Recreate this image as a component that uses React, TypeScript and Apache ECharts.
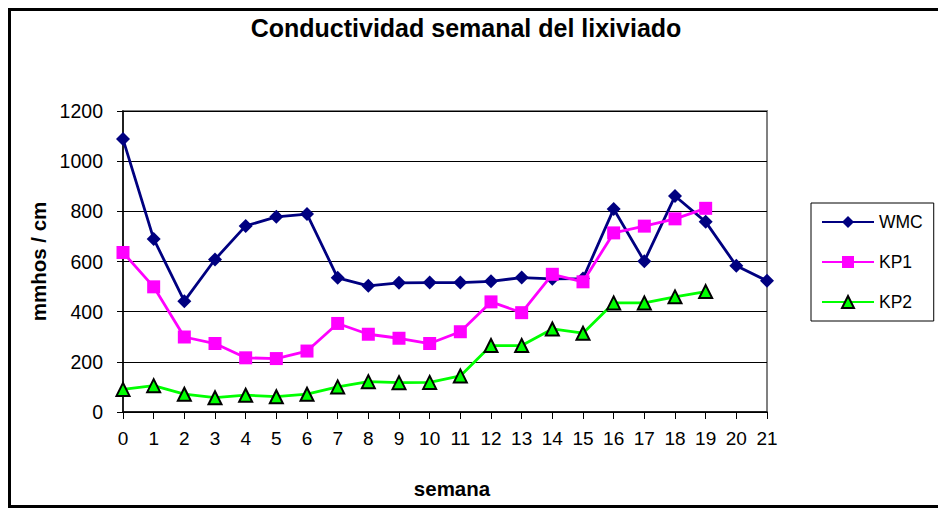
import React, { useEffect, useRef } from "react";
import * as echarts from "echarts";

const weeks = ["0", "1", "2", "3", "4", "5", "6", "7", "8", "9", "10", "11", "12", "13", "14", "15", "16", "17", "18", "19", "20", "21"];
const wmc = [1088, 690, 442, 608, 742, 778, 789, 535, 503, 515, 516, 516, 521, 536, 531, 532, 809, 601, 861, 758, 583, 523];
const kp1 = [636, 499, 299, 273, 216, 213, 243, 353, 310, 294, 273, 320, 439, 396, 549, 519, 714, 741, 770, 812];
const kp2 = [90, 105, 71, 57, 67, 61, 71, 100, 121, 117, 118, 144, 265, 265, 331, 314, 435, 435, 459, 480];

const FONT = "'Liberation Sans', Arial, sans-serif";

export default function App() {
  const ref = useRef<HTMLDivElement>(null);
  useEffect(() => {
    if (!ref.current) return;
    const chart = echarts.init(ref.current, undefined, { renderer: "svg" });
    chart.setOption({
      animation: false,
      backgroundColor: "#ffffff",
      textStyle: { fontFamily: FONT },
      title: {
        text: "Conductividad semanal del lixiviado",
        left: 466,
        textAlign: "center",
        top: 15,
        padding: 0,
        textStyle: { fontFamily: FONT, fontWeight: "bold", fontSize: 25, color: "#000" },
      },
      graphic: [
        {
          type: "rect",
          shape: { x: 9.5, y: 9.5, width: 1000, height: 497 },
          style: { fill: "none", stroke: "#000", lineWidth: 3 },
          silent: true,
        },
      ],
      legend: {
        orient: "vertical",
        left: 811,
        top: 203,
        padding: [10, 11, 10, 10],
        borderColor: "#000",
        borderWidth: 1,
        itemWidth: 52,
        itemHeight: 15,
        itemGap: 22,
        textStyle: { fontFamily: FONT, fontSize: 17.5, color: "#000", lineHeight: 18 },
        data: ["WMC", "KP1", "KP2"],
      },
      grid: {
        left: 123,
        top: 111,
        width: 644,
        height: 301,
        show: true,
        borderColor: "#808080",
        borderWidth: 2,
        containLabel: false,
      },
      xAxis: {
        type: "category",
        data: weeks,
        boundaryGap: false,
        name: "semana",
        nameLocation: "middle",
        nameGap: 66,
        nameTextStyle: { fontFamily: FONT, fontWeight: "bold", fontSize: 20.5, color: "#000", padding: [0, 0, 0, 14] },
        axisLine: { lineStyle: { color: "#000", width: 1.5 } },
        axisTick: { show: true, length: 7, interval: 0, lineStyle: { color: "#000" } },
        axisLabel: { interval: 0, margin: 17, fontFamily: FONT, fontSize: 19, color: "#000" },
        splitLine: { show: false },
      },
      yAxis: {
        type: "value",
        min: 0,
        max: 1200,
        interval: 200,
        name: "mmhos / cm",
        nameLocation: "middle",
        nameGap: 57,
        nameTextStyle: { fontFamily: FONT, fontWeight: "bold", fontSize: 20.5, color: "#000" },
        axisLine: { show: true, lineStyle: { color: "#000", width: 1.5 } },
        axisTick: { show: true, length: 6, lineStyle: { color: "#000" } },
        axisLabel: { margin: 20, fontFamily: FONT, fontSize: 19.5, color: "#000", formatter: (v: number) => String(v) },
        splitLine: { show: true, lineStyle: { color: "#000", width: 1 } },
      },
      series: [
        {
          name: "WMC",
          type: "line",
          data: wmc,
          symbol: "diamond",
          symbolSize: 14,
          lineStyle: { color: "#000080", width: 2.8 },
          itemStyle: { color: "#000080" },
          z: 3,
        },
        {
          name: "KP1",
          type: "line",
          data: kp1,
          symbol: "rect",
          symbolSize: 13,
          lineStyle: { color: "#ff00ff", width: 2.8 },
          itemStyle: { color: "#ff00ff" },
          z: 4,
        },
        {
          name: "KP2",
          type: "line",
          data: kp2,
          symbol: "triangle",
          symbolSize: 13,
          lineStyle: { color: "#00ff00", width: 2.8 },
          itemStyle: { color: "#00ff00", borderColor: "#000", borderWidth: 2 },
          z: 5,
        },
      ],
    });
    return () => chart.dispose();
  }, []);
  return (
    <div
      ref={ref}
      style={{ position: "absolute", left: 0, top: 0, width: 938, height: 508 }}
    />
  );
}
